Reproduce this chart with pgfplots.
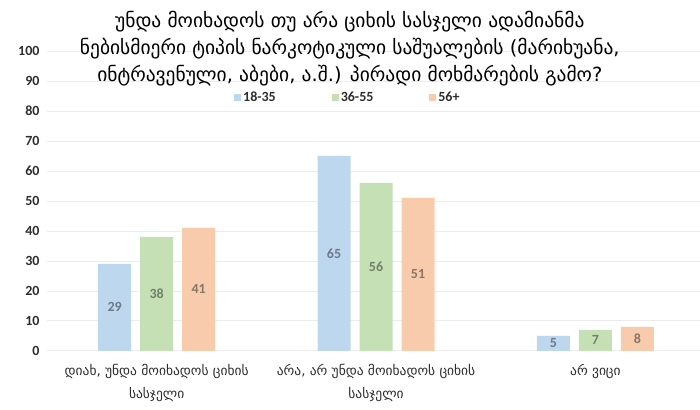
\documentclass[border=0pt]{standalone}
\usepackage{pgfplots}
\pgfplotsset{compat=1.18}
\usepackage{fontspec}
\setmainfont{DejaVu Sans}
\newfontfamily\carlito{Carlito}
\definecolor{cblue}{RGB}{189,215,238}
\definecolor{cgreen}{RGB}{197,224,180}
\definecolor{corange}{RGB}{248,203,173}
\definecolor{tblue}{RGB}{110,122,135}
\definecolor{tgreen}{RGB}{115,128,108}
\definecolor{torange}{RGB}{138,118,104}
\definecolor{gridc}{RGB}{236,236,236}
\definecolor{tickc}{RGB}{45,45,45}
\begin{document}
\begin{tikzpicture}
\path (-47pt,-59pt) rectangle (653pt,351pt);
\begin{axis}[
  scale only axis, width=653pt, height=300pt,
  at={(0pt,0pt)}, anchor=south west,
  ybar=9pt, bar width=33pt,
  xmin=-0.5, xmax=2.475, ymin=0, ymax=100,
  ytick={0,10,...,100},
  xtick={0,1,2},
  xticklabels={{დიახ, უნდა მოიხადოს ციხის\\სასჯელი},{არა, არ უნდა მოიხადოს ციხის\\სასჯელი},{არ ვიცი}},
  xticklabel style={align=center, font=\fontsize{13.5}{23}\selectfont, text=tickc, yshift=-10pt},
  yticklabel style={font=\carlito\bfseries\fontsize{14}{14}\selectfont, text=tickc, xshift=-4pt},
  /pgf/number format/assume math mode=true,
  axis line style={draw=none},
  major tick length=0pt,
  ymajorgrids, grid style={gridc, line width=0.7pt},
  nodes near coords,
  visualization depends on={y \as \rawy},
  every node near coord/.append style={anchor=center, shift={(axis direction cs:0,-\rawy/2)}, font=\carlito\bfseries\fontsize{14}{14}\selectfont},
  legend columns=3,
  legend style={draw=none, fill=none, at={(0.461,0.845)}, anchor=center, font=\carlito\bfseries\fontsize{14}{14}\selectfont, text=tickc, /tikz/every even column/.append style={column sep=54pt}},
  legend image code/.code={\fill[#1] (0pt,-3.5pt) rectangle (7pt,3.5pt);},
]
\addplot[fill=cblue, draw=none, every node near coord/.append style={text=tblue}] coordinates {(0,29) (1,65) (2,5)};
\addplot[fill=cgreen, draw=none, every node near coord/.append style={text=tgreen}] coordinates {(0,38) (1,56) (2,7)};
\addplot[fill=corange, draw=none, every node near coord/.append style={text=torange}] coordinates {(0,41) (1,51) (2,8)};
\legend{18-35,36-55,56+}
\end{axis}
\node[align=center, font=\fontsize{19.5}{27}\selectfont, text=black] at (303pt,302pt) {უნდა მოიხადოს თუ არა ციხის სასჯელი ადამიანმა\\ნებისმიერი ტიპის ნარკოტიკული საშუალების (მარიხუანა,\\ინტრავენული, აბები, ა.შ.) პირადი მოხმარების გამო?};
\end{tikzpicture}
\end{document}
